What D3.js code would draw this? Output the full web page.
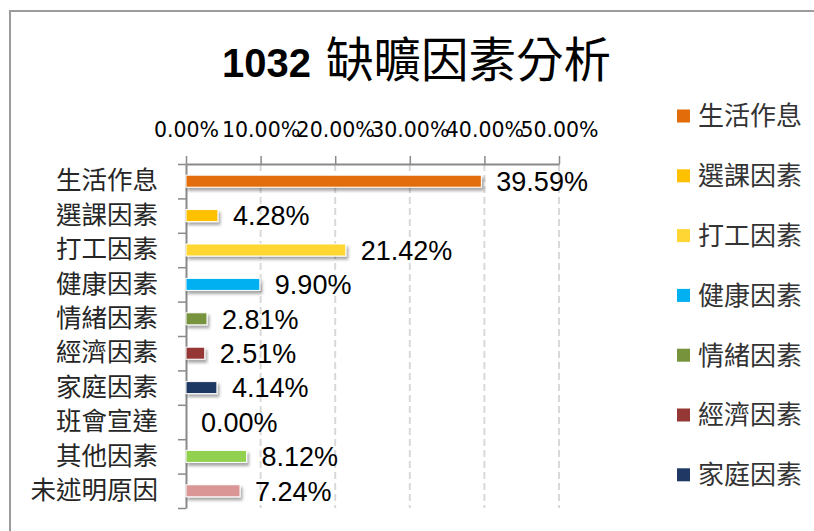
<!DOCTYPE html>
<html lang="zh-Hant">
<head>
  <meta charset="utf-8">
  <title>1032 缺曠因素分析</title>
  <script src="https://cdn.jsdelivr.net/npm/d3@7"></script>
  <style>
    body { margin: 0; background: #fff; }
    svg { display: block; }
  </style>
</head>
<body>
  <div id="chart-area"></div>

  <script>
    // data
    var categories = ["生活作息", "選課因素", "打工因素", "健康因素", "情緒因素",
                      "經濟因素", "家庭因素", "班會宣達", "其他因素", "未述明原因"];
    var values = [39.59, 4.28, 21.42, 9.90, 2.81, 2.51, 4.14, 0.00, 8.12, 7.24];
    var colors = ["#E36C0A", "#FFC000", "#FFD633", "#00B0F0", "#77933C",
                  "#953735", "#1F3864", "#8064A2", "#92D050", "#D99694"];
    var tickValues = [0, 10, 20, 30, 40, 50];
    var legendShown = 7; // the legend box only fits the first seven entries

    var svgWidth = 814, svgHeight = 531;
    var plot = { left: 186, right: 559, top: 164, bottom: 508 };
    var cjk = "'Noto Sans CJK TC', 'Noto Sans CJK SC', sans-serif";

    var data = categories.map(function(c, i) {
      return { name: c, value: values[i], color: colors[i] };
    });

    var svg = d3.select("#chart-area")
                .append("svg")
                .attr("width", svgWidth)
                .attr("height", svgHeight);

    var defs = svg.append("defs");
    var shadow = defs.append("filter")
                     .attr("id", "shadow")
                     .attr("x", "-10%").attr("y", "-50%")
                     .attr("width", "130%").attr("height", "220%");
    shadow.append("feDropShadow")
          .attr("dx", 2).attr("dy", 3)
          .attr("stdDeviation", 1.6)
          .attr("flood-color", "#000")
          .attr("flood-opacity", 0.35);

    // chart frame (runs off the right and bottom edges)
    svg.append("rect")
       .attr("x", 10).attr("y", 11)
       .attr("width", 900).attr("height", 600)
       .attr("fill", "none")
       .attr("stroke", "#9c9c9c")
       .attr("stroke-width", 2);

    // title
    var title = svg.append("text")
                   .attr("x", 222)
                   .attr("y", 77);
    title.append("tspan")
         .attr("font-family", "'Liberation Sans', Arial, sans-serif")
         .attr("font-weight", "bold")
         .attr("font-size", 40)
         .attr("fill", "#000")
         .text("1032");
    title.append("tspan")
         .attr("x", 326)
         .attr("font-family", cjk)
         .attr("font-size", 47.5)
         .attr("fill", "#000")
         .text("缺曠因素分析");

    var x = d3.scaleLinear()
              .domain([0, 50])
              .range([plot.left, plot.right]);

    var y = d3.scaleBand()
              .domain(categories)
              .range([plot.top, plot.bottom])
              .paddingInner(0.65)
              .paddingOuter(0.325);

    var yBound = d3.scaleLinear()
                   .domain([0, categories.length])
                   .range([plot.top, plot.bottom]);

    // dashed gridlines
    svg.append("g")
       .selectAll("line")
       .data(tickValues.filter(function(d) { return d > 0; }))
       .enter()
       .append("line")
       .attr("x1", function(d) { return x(d); })
       .attr("x2", function(d) { return x(d); })
       .attr("y1", plot.top)
       .attr("y2", plot.bottom)
       .attr("stroke", "#d9d9d9")
       .attr("stroke-width", 2)
       .attr("stroke-dasharray", "7,4");

    // top value axis
    var xAxisCall = d3.axisTop(x)
                      .tickValues(tickValues)
                      .tickSize(8)
                      .tickSizeOuter(0)
                      .tickFormat(function(d) { return d.toFixed(2) + "%"; });
    var xAxis = svg.append("g")
                   .attr("transform", "translate(0," + plot.top + ")")
                   .call(xAxisCall);
    xAxis.select(".domain").attr("stroke", "#8a8a8a").attr("stroke-width", 2);
    xAxis.selectAll(".tick line").attr("stroke", "#8a8a8a").attr("stroke-width", 1.5);
    xAxis.selectAll(".tick text")
         .attr("y", -27)
         .attr("dy", 0)
         .attr("font-family", "'DejaVu Sans', sans-serif")
         .attr("font-size", 20.5)
         .attr("fill", "#000");

    // left category axis: tick marks between categories
    var yTickCall = d3.axisLeft(yBound)
                      .tickValues(d3.range(categories.length + 1))
                      .tickSize(8)
                      .tickSizeOuter(0)
                      .tickFormat("");
    var yTicks = svg.append("g")
                    .attr("transform", "translate(" + plot.left + ",0)")
                    .call(yTickCall);
    yTicks.select(".domain").attr("stroke", "#8a8a8a").attr("stroke-width", 2);
    yTicks.selectAll(".tick line").attr("stroke", "#8a8a8a").attr("stroke-width", 1.5);

    // category labels
    var yLabelCall = d3.axisLeft(y).tickSize(0).tickPadding(28);
    var yLabels = svg.append("g")
                     .attr("transform", "translate(" + plot.left + ",0)")
                     .call(yLabelCall);
    yLabels.select(".domain").remove();
    yLabels.selectAll(".tick text")
           .attr("font-family", cjk)
           .attr("font-size", 25.5)
           .attr("fill", "#262626");

    // bars
    svg.append("g")
       .selectAll("rect")
       .data(data.filter(function(d) { return d.value > 0; }))
       .enter()
       .append("rect")
       .attr("x", x(0))
       .attr("y", function(d) { return y(d.name); })
       .attr("width", function(d) { return x(d.value) - x(0); })
       .attr("height", y.bandwidth())
       .attr("fill", function(d) { return d.color; })
       .attr("stroke", "#fff")
       .attr("stroke-width", 1)
       .attr("filter", "url(#shadow)");

    // value labels
    svg.append("g")
       .selectAll("text")
       .data(data)
       .enter()
       .append("text")
       .attr("x", function(d) { return x(d.value) + 15; })
       .attr("y", function(d) { return y(d.name) + y.bandwidth() / 2; })
       .attr("dy", "0.36em")
       .attr("font-family", "'Liberation Sans', Arial, sans-serif")
       .attr("font-size", 27)
       .attr("fill", "#000")
       .text(function(d) { return d.value.toFixed(2) + "%"; });

    // legend
    var legend = svg.append("g")
                    .attr("transform", "translate(677,116)")
                    .selectAll("g")
                    .data(data.slice(0, legendShown))
                    .enter()
                    .append("g")
                    .attr("transform", function(d, i) { return "translate(0," + (i * 59.8) + ")"; });
    legend.append("rect")
          .attr("x", 0).attr("y", -6.5)
          .attr("width", 13).attr("height", 13)
          .attr("fill", function(d) { return d.color; });
    legend.append("text")
          .attr("x", 21)
          .attr("y", 0)
          .attr("dy", "0.36em")
          .attr("font-family", cjk)
          .attr("font-size", 26)
          .attr("fill", "#333")
          .text(function(d) { return d.name; });
  </script>
</body>
</html>
